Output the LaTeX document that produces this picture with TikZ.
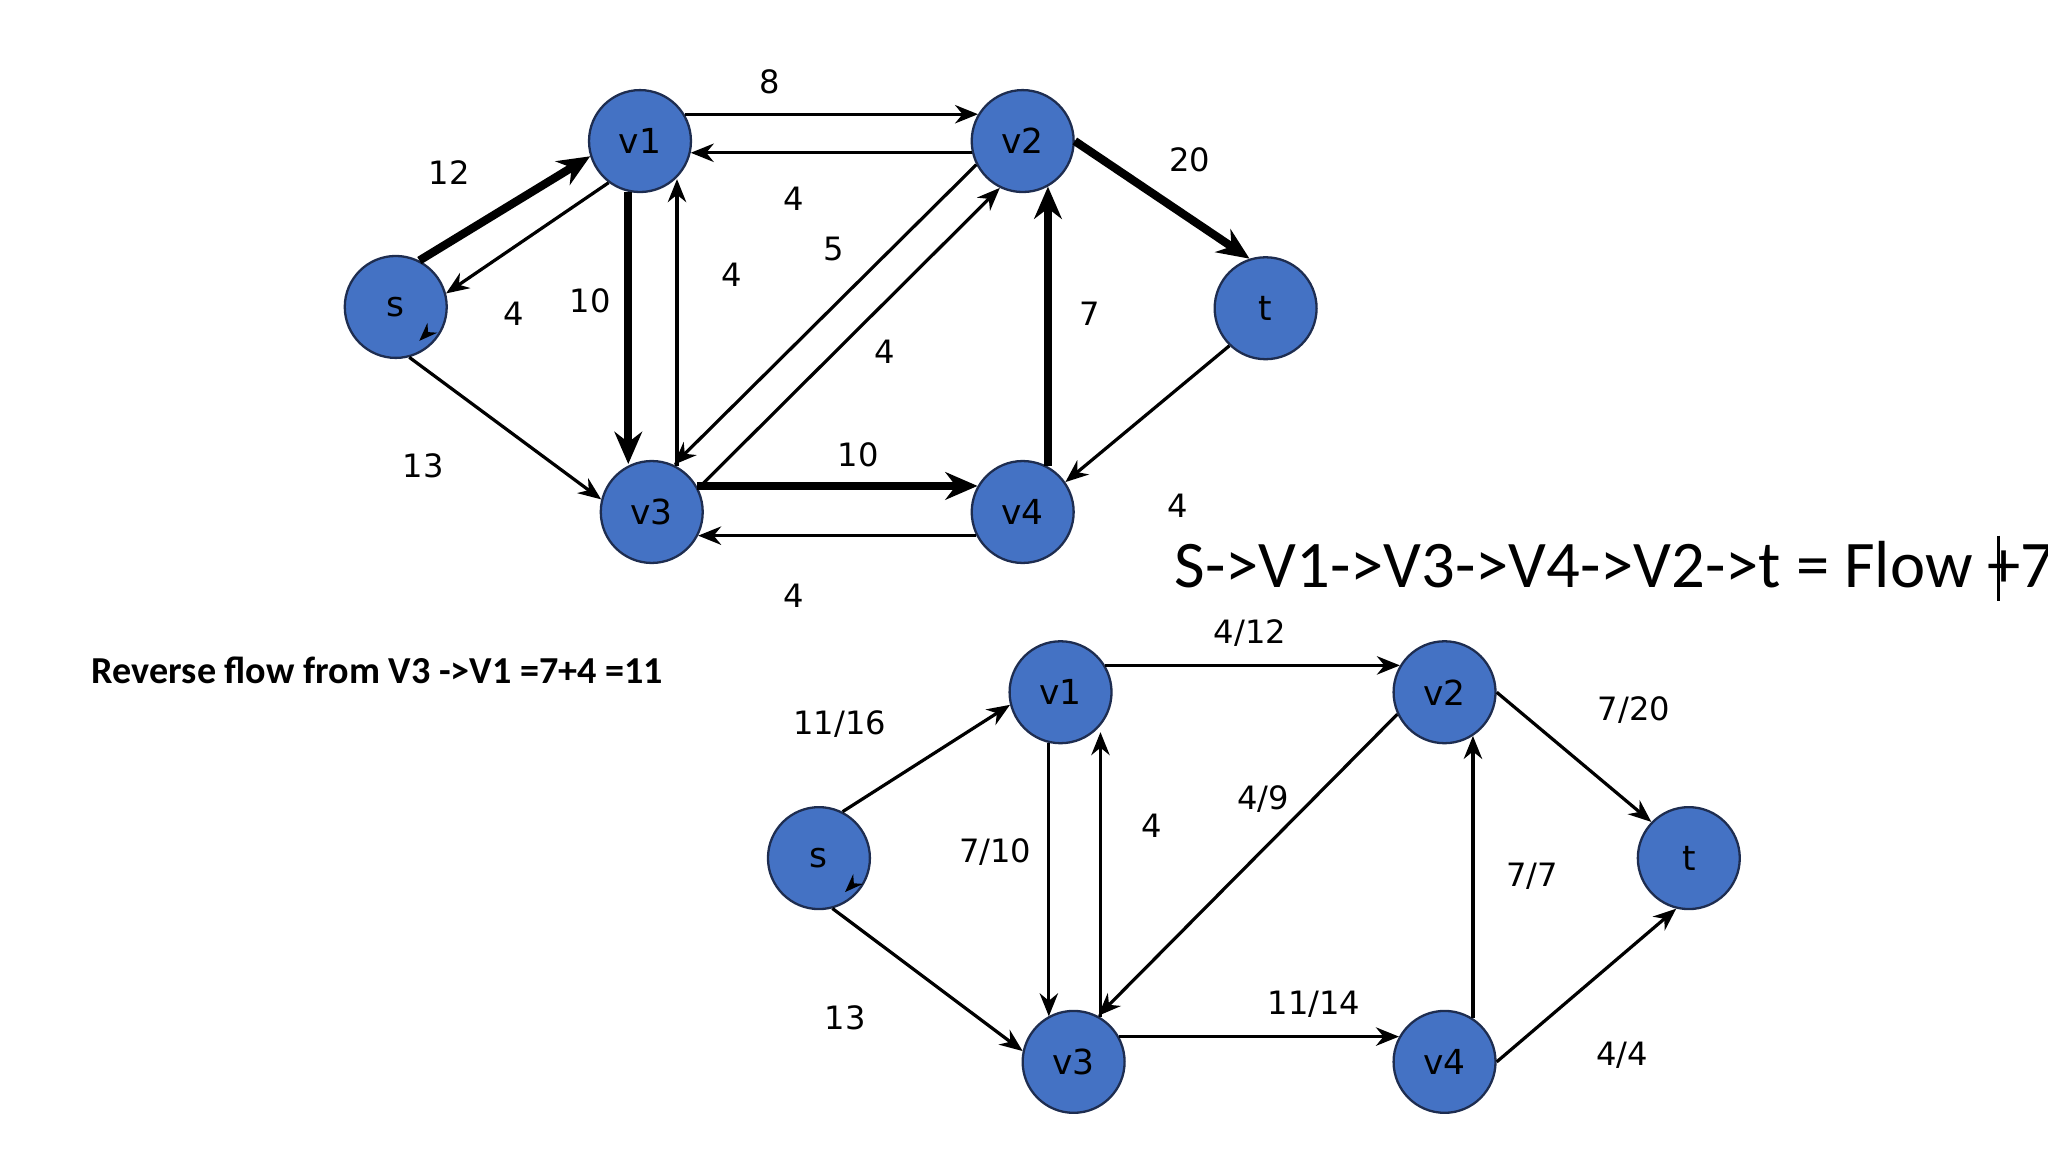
\documentclass[tikz,border=0pt]{standalone}
\usepackage{fontspec}
\setmainfont{DejaVu Sans}
\newfontfamily\carlitofont{Carlito}
\usetikzlibrary{arrows.meta}
\begin{document}
\begin{tikzpicture}[x=0.01cm,y=-0.01cm,
  nd/.style={circle,fill={rgb,255:red,68;green,114;blue,196},draw={rgb,255:red,30;green,45;blue,80},line width=0.5pt,minimum size=0.78cm,inner sep=0pt,font=\fontsize{7.5}{8}\selectfont},
  e/.style={line width=0.7pt,-{Stealth[length=5pt,width=4pt]}},
  te/.style={line width=1.8pt,-{Stealth[length=7pt,width=6pt]}},
  lb/.style={font=\fontsize{7}{8}\selectfont}]
\useasboundingbox (0,0) rectangle (1568,882);
% top graph
\node[nd] (s) at (303,235) {s};
\node[nd] (v1) at (490,108) {v1};
\node[nd] (v2) at (783,108) {v2};
\node[nd] (t) at (969,236) {t};
\node[nd] (v3) at (499,392) {v3};
\node[nd] (v4) at (783,392) {v4};
\draw[te] (s.63) -- (v1.197);
\draw[e] (v1.233) -- (s.15);
\draw[e] (s.285) -- (v3.166);
\draw[te] (v1.257) -- (v1.257 |- v3.113);
\draw[e] (v3.61) -- (v3.61 |- v1.313);
\draw[e] (v1.31) -- (v1.31 -| v2.149);
\draw[e] (v2.193) -- (v2.193 -| v1.347);
\draw[e] (v2.207) -- (v3.65);
\draw[e] (v3.27) -- (v2.244);
\draw[te] (v3.30) -- (v3.30 -| v4.150);
\draw[e] (v4.207) -- (v4.207 -| v3.333);
\draw[te] (v4.61) -- (v4.61 |- v2.299);
\draw[te] (v2.0) -- (t.108);
\draw[e] (t.226) -- (v4.35);
\draw[-{Stealth[length=4pt]},line width=0.5pt] ([shift={(22,22)}]s.center) -- ++(-4,4);
\node[lb] at (344,132) {12};
\node[lb] at (393,240) {4};
\node[lb] at (324,357) {13};
\node[lb] at (452,230) {10};
\node[lb] at (560,210) {4};
\node[lb] at (589,63) {8};
\node[lb] at (608,152) {4};
\node[lb] at (638,191) {5};
\node[lb] at (677,269) {4};
\node[lb] at (657,348) {10};
\node[lb] at (608,456) {4};
\node[lb] at (834,240) {7};
\node[lb] at (911,122) {20};
\node[lb] at (902,387) {4};
\node[anchor=west,font=\carlitofont\fontsize{14.5}{16}\selectfont] (flow) at (887,432) {S->V1->V3->V4->V2->t = Flow +7};
\draw[line width=0.6pt] (1530,410) -- (1530,460);
\node[anchor=west,font=\carlitofont\bfseries\fontsize{8.3}{10}\selectfont] (rev) at (58,513) {Reverse flow from V3 ->V1 =7+4 =11};
% bottom graph
\node[nd] (bs) at (627,657) {s};
\node[nd] (b1) at (812,530) {v1};
\node[nd] (b2) at (1106,530) {v2};
\node[nd] (bt) at (1293,657) {t};
\node[nd] (b3) at (822,813) {v3};
\node[nd] (b4) at (1106,813) {v4};
\draw[e] (bs.63) -- (b1.194);
\draw[e] (bs.285) -- (b3.168);
\draw[e] (b1.257) -- (b1.257 |- b3.119);
\draw[e] (b3.59) -- (b3.59 |- b1.310);
\draw[e] (b1.31) -- (b1.31 -| b2.149);
\draw[e] (b2.205) -- (b3.62);
\draw[e] (b3.29) -- (b3.29 -| b4.151);
\draw[e] (b4.57) -- (b4.57 |- b2.303);
\draw[e] (b2.0) -- (bt.136);
\draw[e] (b4.0) -- (bt.256);
\draw[-{Stealth[length=4pt]},line width=0.5pt] ([shift={(24,22)}]bs.center) -- ++(-4,4);
\node[lb] at (643,554) {11/16};
\node[lb] at (647,779) {13};
\node[lb] at (762,652) {7/10};
\node[lb] at (882,632) {4};
\node[lb] at (957,485) {4/12};
\node[lb] at (967,612) {4/9};
\node[lb] at (1006,769) {11/14};
\node[lb] at (1173,671) {7/7};
\node[lb] at (1251,544) {7/20};
\node[lb] at (1242,808) {4/4};
\end{tikzpicture}
\end{document}
